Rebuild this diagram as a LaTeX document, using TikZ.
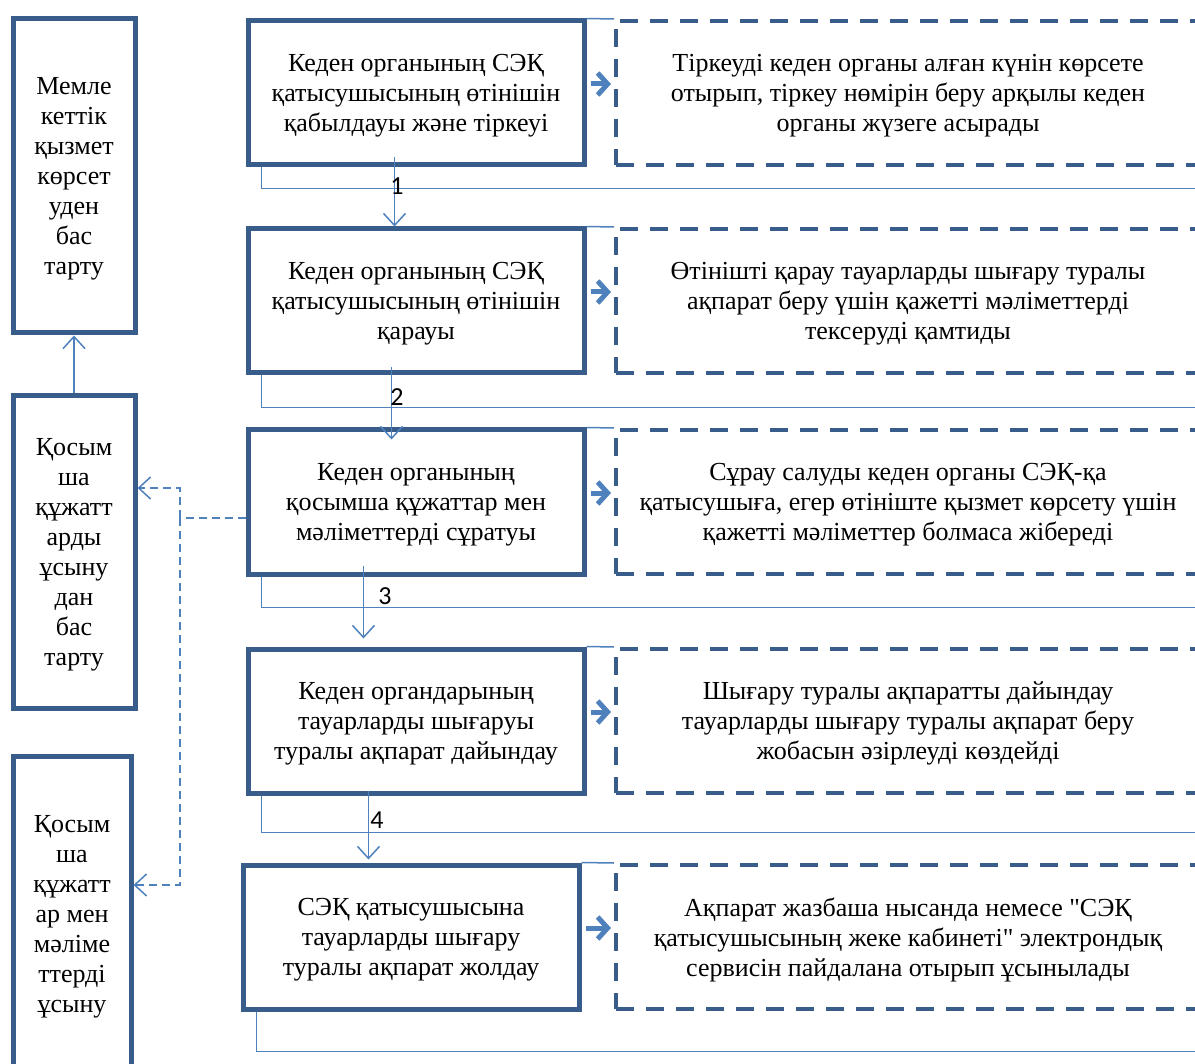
\documentclass[tikz,border=0pt]{standalone}
\usepackage{fontspec}
\setmainfont{Liberation Serif}
\newfontfamily\chiffres{Carlito}
\usetikzlibrary{arrows.meta}

\definecolor{bordure}{RGB}{56,93,138}
\definecolor{trait}{RGB}{79,129,189}

\tikzset{
  texte/.style={align=center, inner sep=0pt, font=\fontsize{13}{15}\selectfont, text depth=-3pt},
  etape/.style={texte, draw=bordure, line width=2.5pt, minimum width=168pt, minimum height=72pt},
  detail/.style={texte, draw=bordure, line width=2pt, dash pattern=on 9pt off 6pt,
    minimum width=292pt, minimum height=72pt},
  refus/.style={texte, draw=bordure, line width=2.5pt, minimum width=61pt},
  liaison/.style={draw=trait, line width=0.75pt},
  fleche/.style={liaison, -{Straight Barb[length=6pt,width=11pt]}},
  renvoi/.style={liaison, dash pattern=on 4pt off 2.5pt},
  sortie/.style={draw=trait, line width=2.5pt, -{Straight Barb[length=5pt,width=11pt]}}
}

\begin{document}
\begin{tikzpicture}[x=0.5pt,y=-0.5pt]
  \clip (0,0) rectangle (1195,1064);

  % Etapes principales
  \node[etape] (b1) at (416,93) {Кеден органының СЭҚ\\қатысушысының өтінішін\\қабылдауы және тіркеуі};
  \node[etape] (b2) at (416,301) {Кеден органының СЭҚ\\қатысушысының өтінішін\\қарауы};
  \node[etape] (b3) at (416,502) {Кеден органының\\қосымша құжаттар мен\\мәліметтерді сұратуы};
  \node[etape] (b4) at (416,721) {Кеден органдарының\\тауарларды шығаруы\\туралы ақпарат дайындау};
  \node[etape] (b5) at (411,937) {СЭҚ қатысушысына\\тауарларды шығару\\туралы ақпарат жолдау};

  % Descriptions
  \node[detail] (d1) at (908,93) {Тіркеуді кеден органы алған күнін көрсете\\отырып, тіркеу нөмірін беру арқылы кеден\\органы жүзеге асырады};
  \node[detail] (d2) at (908,301) {Өтінішті қарау тауарларды шығару туралы\\ақпарат беру үшін қажетті мәліметтерді\\тексеруді қамтиды};
  \node[detail] (d3) at (908,502) {Сұрау салуды кеден органы СЭҚ-қа\\қатысушыға, егер өтініште қызмет көрсету үшін\\қажетті мәліметтер болмаса жібереді};
  \node[detail] (d4) at (908,721) {Шығару туралы ақпаратты дайындау\\тауарларды шығару туралы ақпарат беру\\жобасын әзірлеуді көздейді};
  \node[detail] (d5) at (908,937) {Ақпарат жазбаша нысанда немесе \textquotedbl СЭҚ\\қатысушысының жеке кабинеті\textquotedbl{} электрондық\\сервисін пайдалана отырып ұсынылады};

  % Refus
  \node[refus, minimum height=157pt] (l1) at (74,176) {Мемле\\кеттік\\қызмет\\көрсет\\уден\\бас\\тарту};
  \node[refus, minimum height=156pt] (l2) at (74,552) {Қосым\\ша\\құжатт\\арды\\ұсыну\\дан\\бас\\тарту};
  \node[refus, minimum width=59pt, minimum height=158pt] (l3) at (72,914) {Қосым\\ша\\құжатт\\ар мен\\мәліме\\ттерді\\ұсыну};

  % Liaisons
  \foreach \i/\h in {1/21, 2/32, 3/31, 4/37, 5/40} {
      \draw[liaison] (b\i.north east) -- (d\i.north west);
      \draw[liaison] ([xshift=8pt]b\i.south west) |- ++(960,\h);
      \draw[sortie] ([shift={(4,-9)}]b\i.east) -- ([shift={(-3,-9)}]d\i.west);
  }

  % Fleches numerotees
  \foreach \i/\j/\dx/\dy/\fin/\lx/\ly in {1/2/149/-10/0/397/186, 2/3/146/-8/-6/397/397,
      3/4/118/-11/4/385/596, 4/5/123/-5/1.5/377/820} {
      \draw[fleche] ([shift={(\dx,\dy)}]b\i.south west) coordinate (a\i) -- ([yshift=\fin pt]a\i |- b\j.north);
      \node[font=\chiffres\fontsize{13}{15}\selectfont] (n\i) at (\lx,\ly) {\i};
  }

  % Renvois
  \coordinate (r) at (180,518);
  \draw[renvoi] ([yshift=-8pt]b3.west) -- (r);
  \draw[renvoi, -{Straight Barb[length=6pt,width=11pt]}] (r) |- (l2.east |- 0,488);
  \draw[renvoi, -{Straight Barb[length=6pt,width=11pt]}] (r) |- (l3.east |- 0,885);
  \draw[fleche] (l2.north) -- (l1.south);
\end{tikzpicture}
\end{document}
